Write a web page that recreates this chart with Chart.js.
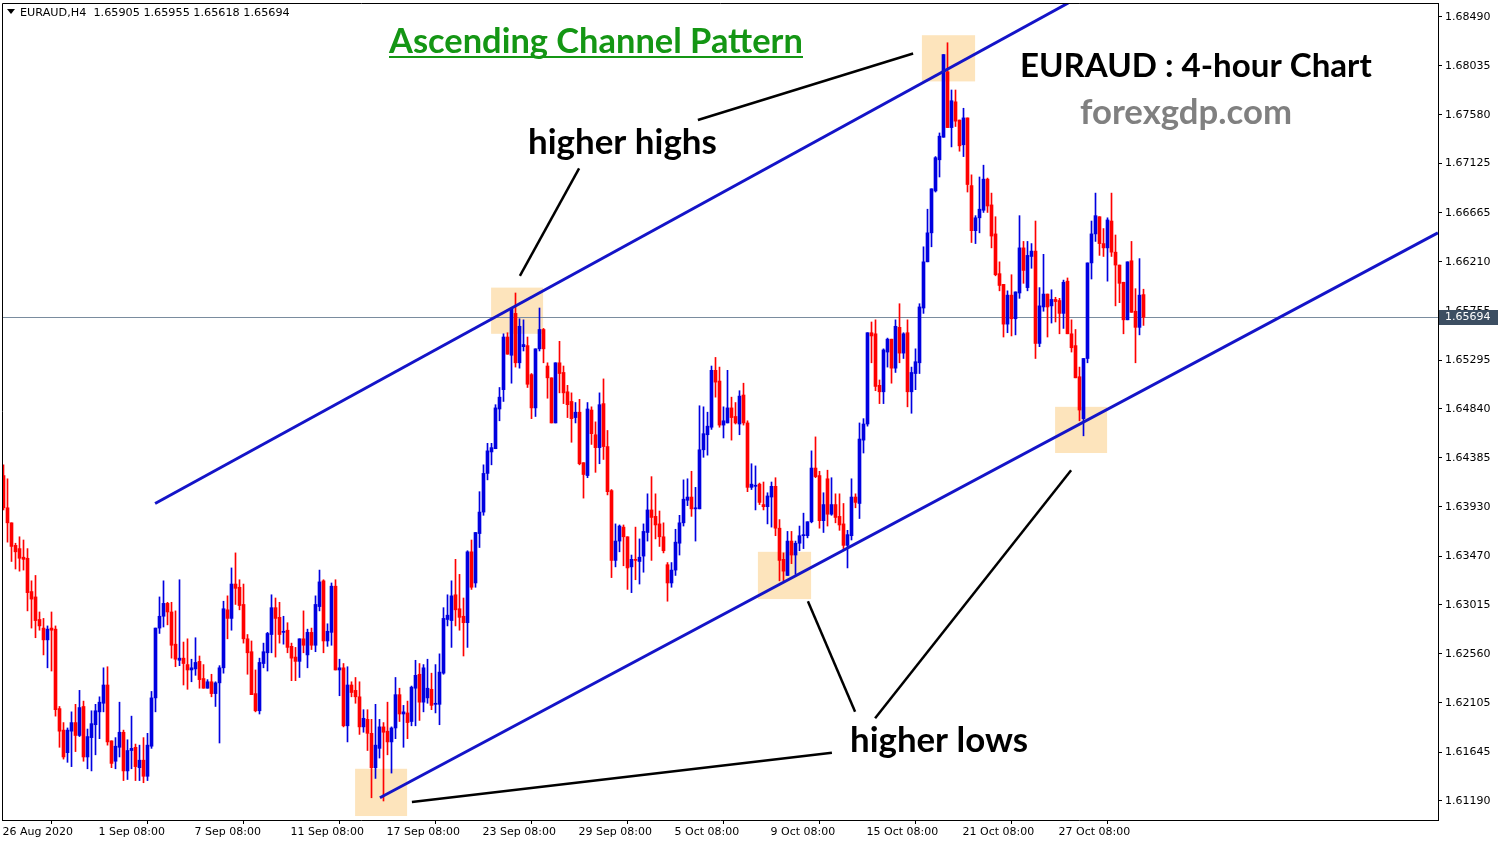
<!DOCTYPE html>
<html lang="en">
<head>
<meta charset="UTF-8">
<title>EURAUD H4</title>
<script src="https://cdn.jsdelivr.net/npm/chart.js"></script>
<style>
  html, body { margin: 0; padding: 0; background: #fff; overflow: hidden; }
  #wrap { width: 1502px; height: 844px; }
</style>
</head>
<body>
<div id="wrap"><canvas id="grafico" width="1502" height="844"></canvas></div>
<script>
// EURAUD H4 candles (26 Aug -> 29 Oct 2020)
const opens = [
  1.6422,1.6392,1.6378,1.6357,1.6354,1.6346,1.6345,1.6314,1.6309,1.6288,
  1.6280,1.6269,1.6280,1.6279,1.6205,1.6185,1.6164,1.6184,1.6192,1.6180,
  1.6207,1.6160,1.6178,1.6190,1.6202,1.6210,1.6227,1.6175,1.6156,1.6169,
  1.6183,1.6147,1.6166,1.6169,1.6150,1.6157,1.6142,1.6170,1.6215,1.6280,
  1.6291,1.6303,1.6295,1.6265,1.6250,1.6252,1.6246,1.6241,1.6242,1.6249,
  1.6233,1.6224,1.6230,1.6219,1.6229,1.6243,1.6297,1.6289,1.6321,1.6318,
  1.6302,1.6270,1.6258,1.6219,1.6203,1.6247,1.6257,1.6274,1.6299,1.6290,
  1.6276,1.6278,1.6263,1.6253,1.6249,1.6270,1.6255,1.6276,1.6264,1.6300,
  1.6324,1.6268,1.6276,1.6319,1.6241,1.6243,1.6189,1.6227,1.6222,1.6216,
  1.6188,1.6195,1.6182,1.6150,1.6168,1.6188,1.6184,1.6174,1.6187,1.6218,
  1.6200,1.6201,1.6193,1.6224,1.6237,1.6211,1.6215,1.6223,1.6209,1.6209,
  1.6238,1.6288,1.6287,1.6311,1.6298,1.6291,1.6285,1.6351,1.6322,1.6368,
  1.6388,1.6424,1.6444,1.6447,1.6484,1.6502,1.6551,1.6534,1.6573,1.6527,
  1.6542,1.6543,1.6516,1.6485,1.6540,1.6558,1.6524,1.6513,1.6471,1.6527,
  1.6518,1.6500,1.6491,1.6476,1.6481,1.6434,1.6422,1.6483,1.6460,1.6448,
  1.6489,1.6449,1.6408,1.6343,1.6361,1.6374,1.6365,1.6337,1.6344,1.6342,
  1.6347,1.6369,1.6390,1.6384,1.6377,1.6365,1.6339,1.6322,1.6334,1.6359,
  1.6378,1.6399,1.6402,1.6391,1.6391,1.6446,1.6460,1.6467,1.6520,1.6510,
  1.6469,1.6471,1.6485,1.6477,1.6470,1.6497,1.6471,1.6411,1.6412,1.6414,
  1.6395,1.6393,1.6402,1.6412,1.6373,1.6344,1.6329,1.6361,1.6348,1.6359,
  1.6366,1.6366,1.6379,1.6429,1.6422,1.6380,1.6419,1.6386,1.6395,1.6384,
  1.6377,1.6357,1.6366,1.6402,1.6396,1.6455,1.6470,1.6555,1.6554,1.6506,
  1.6500,1.6537,1.6549,1.6522,1.6560,1.6536,1.6555,1.6500,1.6517,1.6527,
  1.6578,1.6621,1.6648,1.6687,1.6716,1.6737,1.6798,1.6746,1.6770,1.6753,
  1.6730,1.6755,1.6692,1.6650,1.6662,1.6669,1.6698,1.6674,1.6647,1.6610,
  1.6600,1.6563,1.6590,1.6568,1.6592,1.6634,1.6597,1.6626,1.6631,1.6545,
  1.6579,1.6591,1.6580,1.6586,1.6585,1.6573,1.6603,1.6554,1.6543,1.6514,
  1.6475,1.6531,1.6620,1.6647,1.6663,1.6638,1.6634,1.6659,1.6630,1.6618,
  1.6602,1.6567,1.6622,1.6575,1.6560,1.65905
];
const highs = [
  1.6432,1.6419,1.6378,1.6359,1.6365,1.6362,1.6354,1.6324,1.6329,1.6295,
  1.6289,1.6282,1.6295,1.6282,1.6207,1.6192,1.6187,1.6202,1.6209,1.6222,
  1.6212,1.6186,1.6203,1.6209,1.6216,1.6243,1.6244,1.6175,1.6178,1.6211,
  1.6185,1.6176,1.6198,1.6172,1.6171,1.6178,1.6182,1.6221,1.6280,1.6309,
  1.6324,1.6304,1.6304,1.6296,1.6325,1.6267,1.6270,1.6251,1.6271,1.6254,
  1.6246,1.6232,1.6237,1.6230,1.6245,1.6305,1.6310,1.6336,1.6350,1.6325,
  1.6321,1.6274,1.6268,1.6241,1.6252,1.6266,1.6276,1.6311,1.6308,1.6304,
  1.6291,1.6285,1.6266,1.6262,1.6270,1.6296,1.6279,1.6280,1.6310,1.6334,
  1.6325,1.6284,1.6322,1.6325,1.6251,1.6247,1.6244,1.6230,1.6234,1.6230,
  1.6204,1.6204,1.6195,1.6209,1.6195,1.6192,1.6211,1.6188,1.6234,1.6224,
  1.6208,1.6212,1.6226,1.6250,1.6247,1.6246,1.6251,1.6238,1.6246,1.6256,
  1.6299,1.6311,1.6324,1.6344,1.6330,1.6308,1.6352,1.6362,1.6369,1.6407,
  1.6432,1.6452,1.6452,1.6488,1.6504,1.6554,1.6555,1.6577,1.6592,1.6568,
  1.6567,1.6551,1.6517,1.6540,1.6578,1.6559,1.6527,1.6513,1.6527,1.6547,
  1.6524,1.6506,1.6499,1.6490,1.6493,1.6434,1.6490,1.6486,1.6472,1.6499,
  1.6512,1.6464,1.6409,1.6377,1.6376,1.6376,1.6365,1.6348,1.6374,1.6363,
  1.6377,1.6405,1.6421,1.6405,1.6389,1.6378,1.6341,1.6341,1.6372,1.6385,
  1.6418,1.6419,1.6426,1.6411,1.6487,1.6486,1.6481,1.6524,1.6532,1.6523,
  1.6486,1.6520,1.6495,1.6490,1.6501,1.6508,1.6473,1.6433,1.6431,1.6415,
  1.6416,1.6406,1.6416,1.6420,1.6381,1.6350,1.6370,1.6370,1.6361,1.6375,
  1.6387,1.6379,1.6445,1.6458,1.6426,1.6406,1.6427,1.6420,1.6405,1.6405,
  1.6396,1.6371,1.6419,1.6405,1.6471,1.6475,1.6555,1.6565,1.6567,1.6511,
  1.6540,1.6550,1.6549,1.6567,1.6582,1.6555,1.6567,1.6523,1.6540,1.6582,
  1.6635,1.6670,1.6689,1.6719,1.6741,1.6814,1.6825,1.6781,1.6781,1.6753,
  1.6764,1.6755,1.6702,1.6664,1.6700,1.6711,1.6699,1.6685,1.6663,1.6621,
  1.6600,1.6594,1.6609,1.6593,1.6664,1.6640,1.6640,1.6638,1.6659,1.6597,
  1.6628,1.6591,1.6595,1.6588,1.6587,1.6604,1.6606,1.6567,1.6558,1.6523,
  1.6531,1.6620,1.6659,1.6685,1.6663,1.6652,1.6662,1.6685,1.6646,1.6618,
  1.6602,1.6621,1.6640,1.6596,1.6624,1.65955
];
const lows = [
  1.6390,1.6360,1.6342,1.6335,1.6333,1.6334,1.6296,1.6280,1.6271,1.6278,
  1.6255,1.6243,1.6240,1.6198,1.6169,1.6158,1.6155,1.6151,1.6165,1.6179,
  1.6156,1.6149,1.6147,1.6162,1.6177,1.6202,1.6171,1.6150,1.6149,1.6160,
  1.6138,1.6139,1.6149,1.6138,1.6138,1.6136,1.6138,1.6168,1.6202,1.6275,
  1.6281,1.6283,1.6252,1.6244,1.6245,1.6227,1.6223,1.6230,1.6236,1.6224,
  1.6224,1.6224,1.6216,1.6207,1.6173,1.6238,1.6270,1.6278,1.6302,1.6297,
  1.6266,1.6237,1.6218,1.6202,1.6200,1.6243,1.6240,1.6257,1.6253,1.6266,
  1.6265,1.6257,1.6231,1.6231,1.6234,1.6257,1.6243,1.6260,1.6258,1.6296,
  1.6257,1.6263,1.6264,1.6241,1.6217,1.6188,1.6174,1.6216,1.6210,1.6181,
  1.6183,1.6166,1.6122,1.6140,1.6159,1.6119,1.6162,1.6145,1.6177,1.6193,
  1.6169,1.6177,1.6189,1.6189,1.6194,1.6202,1.6210,1.6204,1.6201,1.6190,
  1.6237,1.6282,1.6262,1.6282,1.6278,1.6254,1.6262,1.6316,1.6318,1.6355,
  1.6385,1.6418,1.6432,1.6447,1.6473,1.6491,1.6535,1.6508,1.6523,1.6522,
  1.6538,1.6504,1.6475,1.6477,1.6538,1.6527,1.6494,1.6471,1.6471,1.6499,
  1.6489,1.6476,1.6453,1.6471,1.6432,1.6401,1.6420,1.6451,1.6425,1.6433,
  1.6437,1.6404,1.6327,1.6337,1.6351,1.6338,1.6316,1.6313,1.6325,1.6321,
  1.6332,1.6361,1.6343,1.6363,1.6356,1.6350,1.6305,1.6318,1.6329,1.6348,
  1.6375,1.6394,1.6384,1.6361,1.6391,1.6439,1.6441,1.6465,1.6495,1.6467,
  1.6457,1.6471,1.6455,1.6470,1.6460,1.6469,1.6407,1.6409,1.6390,1.6395,
  1.6390,1.6377,1.6374,1.6366,1.6324,1.6324,1.6329,1.6340,1.6330,1.6352,
  1.6354,1.6364,1.6378,1.6420,1.6373,1.6369,1.6375,1.6385,1.6378,1.6371,
  1.6352,1.6336,1.6362,1.6392,1.6382,1.6443,1.6468,1.6527,1.6501,1.6489,
  1.6489,1.6523,1.6508,1.6518,1.6527,1.6531,1.6486,1.6480,1.6502,1.6517,
  1.6573,1.6621,1.6635,1.6686,1.6700,1.6737,1.6746,1.6728,1.6747,1.6724,
  1.6719,1.6686,1.6639,1.6638,1.6648,1.6667,1.6667,1.6634,1.6608,1.6594,
  1.6551,1.6555,1.6552,1.6553,1.6587,1.6601,1.6594,1.6615,1.6531,1.6542,
  1.6575,1.6551,1.6564,1.6565,1.6554,1.6559,1.6554,1.6537,1.6513,1.6473,
  1.6459,1.6527,1.6605,1.6640,1.6627,1.6626,1.6603,1.6626,1.6580,1.6583,
  1.6554,1.6567,1.6574,1.6527,1.6553,1.65618
];
const closes = [
  1.6392,1.6378,1.6356,1.6351,1.6345,1.6344,1.6313,1.6307,1.6287,1.6282,
  1.6269,1.6279,1.6278,1.6204,1.6184,1.6160,1.6185,1.6192,1.6180,1.6206,
  1.6160,1.6179,1.6191,1.6203,1.6211,1.6227,1.6174,1.6154,1.6170,1.6183,
  1.6147,1.6166,1.6168,1.6151,1.6157,1.6142,1.6171,1.6215,1.6280,1.6291,
  1.6303,1.6295,1.6264,1.6251,1.6252,1.6247,1.6241,1.6243,1.6248,1.6232,
  1.6224,1.6230,1.6219,1.6229,1.6243,1.6298,1.6289,1.6321,1.6317,1.6301,
  1.6270,1.6257,1.6218,1.6203,1.6248,1.6258,1.6275,1.6299,1.6289,1.6274,
  1.6277,1.6262,1.6252,1.6249,1.6270,1.6264,1.6276,1.6264,1.6302,1.6323,
  1.6268,1.6277,1.6319,1.6241,1.6243,1.6189,1.6227,1.6220,1.6216,1.6188,
  1.6196,1.6182,1.6150,1.6171,1.6188,1.6183,1.6174,1.6187,1.6218,1.6200,
  1.6202,1.6192,1.6225,1.6236,1.6211,1.6243,1.6224,1.6208,1.6210,1.6239,
  1.6289,1.6292,1.6310,1.6297,1.6290,1.6285,1.6351,1.6318,1.6369,1.6388,
  1.6424,1.6445,1.6448,1.6485,1.6495,1.6551,1.6535,1.6577,1.6527,1.6561,
  1.6544,1.6507,1.6485,1.6540,1.6558,1.6540,1.6513,1.6471,1.6527,1.6517,
  1.6499,1.6488,1.6475,1.6481,1.6433,1.6423,1.6484,1.6461,1.6448,1.6488,
  1.6449,1.6407,1.6343,1.6361,1.6375,1.6365,1.6336,1.6344,1.6343,1.6346,
  1.6370,1.6390,1.6383,1.6376,1.6365,1.6352,1.6322,1.6334,1.6360,1.6378,
  1.6400,1.6402,1.6391,1.6392,1.6446,1.6461,1.6468,1.6520,1.6509,1.6469,
  1.6473,1.6485,1.6476,1.6471,1.6496,1.6471,1.6411,1.6414,1.6413,1.6397,
  1.6393,1.6403,1.6412,1.6373,1.6343,1.6333,1.6361,1.6348,1.6359,1.6366,
  1.6367,1.6379,1.6429,1.6421,1.6380,1.6395,1.6386,1.6395,1.6383,1.6376,
  1.6357,1.6367,1.6402,1.6397,1.6456,1.6470,1.6555,1.6552,1.6505,1.6500,
  1.6539,1.6549,1.6522,1.6561,1.6536,1.6554,1.6500,1.6518,1.6528,1.6579,
  1.6621,1.6648,1.6689,1.6718,1.6738,1.6814,1.6746,1.6771,1.6752,1.6729,
  1.6755,1.6693,1.6650,1.6662,1.6670,1.6698,1.6673,1.6645,1.6609,1.6599,
  1.6563,1.6590,1.6568,1.6593,1.6634,1.6613,1.6627,1.6631,1.6545,1.6580,
  1.6591,1.6579,1.6586,1.6584,1.6573,1.6602,1.6554,1.6541,1.6513,1.6483,
  1.6531,1.6620,1.6647,1.6664,1.6638,1.6634,1.6660,1.6630,1.6618,1.6601,
  1.6567,1.6621,1.6574,1.6560,1.6590,1.65694
];

// eixo x: posicao do candle e rotulo
const xTickIdx = [0, 24, 48, 72, 96, 120, 144, 168, 192, 216, 240, 264];
const xTickText = ['26 Aug 2020', '1 Sep 08:00', '7 Sep 08:00', '11 Sep 08:00', '17 Sep 08:00', '23 Sep 08:00',
  '29 Sep 08:00', '5 Oct 08:00', '9 Oct 08:00', '15 Oct 08:00', '21 Oct 08:00', '27 Oct 08:00'];
// eixo y (precos)
const yTicks = [1.68490, 1.68035, 1.67580, 1.67125, 1.66665, 1.66210, 1.65755, 1.65295, 1.64840,
  1.64385, 1.63930, 1.63470, 1.63015, 1.62560, 1.62105, 1.61645, 1.61190];
const lastPrice = 1.65694;

// desenhos sobre o grafico, em [indice do candle, preco]
const channelUpper = [[37.9, 1.6396], [266.2, 1.6862]];
const channelLower = [[94.1, 1.6122], [358.6, 1.6648]];
const pointers = [
  [[173.6, 1.6753], [227.4, 1.6815]],
  [[129.1, 1.6608], [143.9, 1.6708]],
  [[102.1, 1.6118], [207.1, 1.6164]],
  [[201.1, 1.6305], [212.9, 1.6202]],
  [[217.9, 1.6196], [266.9, 1.6427]]
];
const boxes = [
  [121.9, 134.9, 1.6597, 1.6554],
  [229.6, 242.9, 1.6832, 1.6789],
  [188.6, 201.9, 1.6351, 1.6307],
  [262.9, 275.9, 1.6486, 1.6443],
  [87.9, 100.9, 1.6149, 1.6105]
];

const AZUL = '#0000e0';
const VERMELHO = '#ff0000';
const cores = closes.map((c, i) => c >= opens[i] ? AZUL : VERMELHO);

const wicks = highs.map((h, i) => ({ x: i, y: [lows[i], h] }));
const bodies = opens.map((o, i) => ({ x: i, y: [Math.min(o, closes[i]), Math.max(o, closes[i])] }));

function px(chart, p) {
  return [chart.scales.x.getPixelForValue(p[0]), chart.scales.y.getPixelForValue(p[1])];
}

function linha(ctx, chart, a, b) {
  const p1 = px(chart, a), p2 = px(chart, b);
  ctx.beginPath();
  ctx.moveTo(p1[0], p1[1]);
  ctx.lineTo(p2[0], p2[1]);
  ctx.stroke();
}

// texto ajustado a largura vista na imagem
function texto(ctx, s, x0, x1, base, cor, peso, fam) {
  const f = (peso || 'bold') + ' ';
  const familia = fam || 'Lato';
  ctx.font = f + '32px ' + familia;
  const w = ctx.measureText(s).width;
  const size = 32 * (x1 - x0) / w;
  ctx.font = f + size.toFixed(2) + 'px ' + familia;
  ctx.fillStyle = cor;
  ctx.textAlign = 'left';
  ctx.textBaseline = 'alphabetic';
  ctx.fillText(s, x0, base);
}

const desenhos = {
  id: 'desenhos',
  beforeDatasetsDraw(chart) {
    const { ctx, chartArea: a } = chart;
    ctx.save();
    ctx.beginPath();
    ctx.rect(a.left, a.top, a.width, a.height);
    ctx.clip();
    ctx.fillStyle = 'rgb(253,228,188)';
    boxes.forEach(b => {
      const p1 = px(chart, [b[0], b[2]]), p2 = px(chart, [b[1], b[3]]);
      ctx.fillRect(p1[0], p1[1], p2[0] - p1[0], p2[1] - p1[1]);
    });
    // linha do preco atual
    const yp = Math.round(chart.scales.y.getPixelForValue(lastPrice)) + 0.5;
    ctx.strokeStyle = 'rgb(122,140,158)';
    ctx.lineWidth = 1;
    ctx.beginPath();
    ctx.moveTo(a.left, yp);
    ctx.lineTo(a.right, yp);
    ctx.stroke();
    ctx.restore();
  },
  afterDatasetsDraw(chart) {
    const { ctx, chartArea: a } = chart;
    ctx.save();
    ctx.beginPath();
    ctx.rect(a.left, a.top, a.width, a.height);
    ctx.clip();
    ctx.lineCap = 'butt';
    ctx.strokeStyle = 'rgb(20,20,200)';
    ctx.lineWidth = 3;
    linha(ctx, chart, channelUpper[0], channelUpper[1]);
    linha(ctx, chart, channelLower[0], channelLower[1]);
    ctx.strokeStyle = '#000';
    ctx.lineWidth = 2.5;
    pointers.forEach(p => linha(ctx, chart, p[0], p[1]));
    ctx.restore();
  },
  afterDraw(chart) {
    const { ctx, chartArea: a } = chart;
    ctx.save();
    // moldura (esquerda e topo)
    ctx.strokeStyle = '#000';
    ctx.lineWidth = 1;
    ctx.beginPath();
    ctx.moveTo(a.left + 0.5, a.bottom);
    ctx.lineTo(a.left + 0.5, a.top + 0.5);
    ctx.lineTo(a.right, a.top + 0.5);
    ctx.stroke();

    // cabecalho
    ctx.fillStyle = '#000';
    ctx.beginPath();
    ctx.moveTo(7, 9); ctx.lineTo(15, 9); ctx.lineTo(11, 14); ctx.closePath();
    ctx.fill();
    const cab = 'EURAUD,H4  ' + [opens, highs, lows, closes].map(s => s[s.length - 1].toFixed(5)).join(' ');
    texto(ctx, cab, 20, 290, 16, '#000', 'normal', '"DejaVu Sans"');

    // preco atual no eixo
    const yp = Math.round(chart.scales.y.getPixelForValue(lastPrice));
    ctx.fillStyle = 'rgb(60,78,98)';
    ctx.fillRect(a.right + 1, yp - 7, 59, 15);
    ctx.fillStyle = '#fff';
    ctx.font = '11px "DejaVu Sans"';
    ctx.textAlign = 'left';
    ctx.textBaseline = 'middle';
    ctx.fillText(lastPrice.toFixed(5), a.right + 7, yp + 0.5);

    // titulos
    texto(ctx, 'Ascending Channel Pattern', 389, 803, 53, 'rgb(20,150,20)');
    ctx.fillStyle = 'rgb(20,150,20)';
    ctx.fillRect(389, 56, 414, 2);
    texto(ctx, 'EURAUD : 4-hour Chart', 1020, 1372, 77, '#000');
    texto(ctx, 'forexgdp.com', 1080, 1292, 124, '#808080');
    texto(ctx, 'higher highs', 528, 717, 154, '#000');
    texto(ctx, 'higher lows', 850, 1028, 752, '#000');
    ctx.restore();
  }
};

new Chart(document.getElementById('grafico'), {
  type: 'bar',
  data: {
    datasets: [
      { data: wicks, backgroundColor: cores, barThickness: 1, grouped: false, minBarLength: 1 },
      { data: bodies, backgroundColor: cores, barThickness: 3, grouped: false, minBarLength: 1 }
    ]
  },
  options: {
    responsive: false,
    devicePixelRatio: 1,
    animation: false,
    events: [],
    layout: { padding: { left: 2, top: 3, right: 0, bottom: 0 } },
    plugins: { legend: { display: false }, tooltip: { enabled: false } },
    scales: {
      x: {
        type: 'linear',
        min: -0.375,
        max: 358.625,
        offset: false,
        afterBuildTicks: s => { s.ticks = xTickIdx.map(v => ({ value: v })); },
        afterFit: s => { s.height = 24; s.paddingLeft = 0; s.paddingRight = 0; },
        grid: { display: true, drawOnChartArea: false, drawTicks: true, tickLength: 4, color: '#000' },
        border: { display: true, color: '#000' },
        ticks: {
          autoSkip: false,
          maxRotation: 0,
          minRotation: 0,
          align: 'start',
          labelOffset: -1,
          padding: 2,
          color: '#000',
          font: { family: 'DejaVu Sans', size: 11 },
          callback: v => xTickText[xTickIdx.indexOf(v)]
        }
      },
      y: {
        position: 'right',
        min: 1.61013,
        max: 1.68620,
        afterBuildTicks: s => { s.ticks = yTicks.map(v => ({ value: v })); },
        afterFit: s => { s.width = 64; s.paddingTop = 0; s.paddingBottom = 0; },
        grid: { display: true, drawOnChartArea: false, drawTicks: true, tickLength: 4, color: '#000' },
        border: { display: true, color: '#000' },
        ticks: {
          autoSkip: false,
          padding: 3,
          color: '#000',
          font: { family: 'DejaVu Sans', size: 11 },
          callback: v => v.toFixed(5)
        }
      }
    }
  },
  plugins: [desenhos]
});
</script>
</body>
</html>
